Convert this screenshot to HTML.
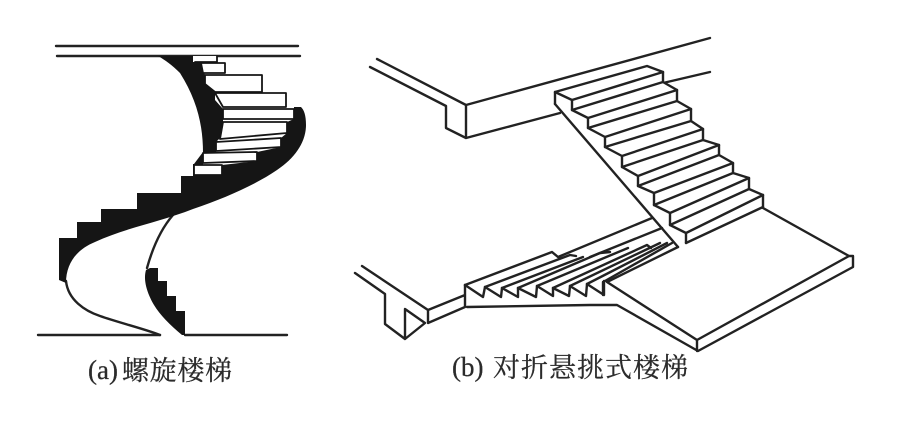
<!DOCTYPE html>
<html><head><meta charset="utf-8"><style>
html,body{margin:0;padding:0;background:#fff}
svg{display:block}
text{font-family:"Liberation Serif","Noto Serif CJK SC",serif;fill:#2b2b2b;stroke:#2b2b2b;stroke-width:.25}
</style></head><body>
<svg width="921" height="440" viewBox="0 0 921 440" xmlns="http://www.w3.org/2000/svg">
<rect width="921" height="440" fill="#fff"/>
<g fill="none" stroke="#222" stroke-width="2.4" stroke-linejoin="round" stroke-linecap="round">
<!-- (a) spiral -->
<path d="M56 46H298M57 56H300M38 335H160M185 335H287"/>
<path d="M66 281C68 300 85 311 100 316C120 323 145 329 160 335" stroke-width="2.4"/>
<path d="M173 215C160 230 152 250 147 268" stroke-width="2.4"/>
<path fill="#151515" stroke="none" d="M158 56H193L201 63L205 75V84L215 93V100L223 109V135L216 142V152L203 153C203 125 197 100 180 73C172 65 165 60 158 56Z"/>
<path fill="#151515" stroke="none" d="M203 152L194 164H193V176H181V193H137V209H101V222H77V238H59V280L66 283C66 262 78 249 95 242C125 228 160 222 193 209C225 198 255 185 277 170C295 158 306 142 306 125C306 115 304 110 301 107H294V119L287 122V133L281 138V147L257 152V161L222 165V175H203Z"/>
<path fill="#151515" stroke="none" d="M150 268H158V281H167V296H176V311H185V335H182C170 325 160 315 154 305C147 293 143 280 146 270Z"/>
<g fill="#fff" stroke="#151515" stroke-width="1.8">
<path d="M193 56H217V62H193Z" stroke="none"/>
<path d="M217 56V62H195"/>
<path d="M201 63H225V73H203Z"/>
<path d="M205 75H262V92H215L205 84Z"/>
<path d="M215 93H286V107H223Z"/>
<path d="M223 109H294V119H223Z"/>
<path d="M223 122H287V133L220 139Z"/>
<path d="M216 142L281 138V147L216 151Z"/>
<path d="M203 153L257 152V161L203 163Z"/>
<path d="M194 165H222V175H194Z"/>
</g>
<!-- (b) upper slab -->
<path d="M377 59L466 105M370 67L446 106V128L466 138V105L710 38M466 138L560 113M663 83L710 72"/>
<!-- upper flight -->
<g fill="#fff">
<path d="M555 92L647 66L663 72V82L677 90V101L691 109V121L703 129V140L719 145V155L733 163V173L749 178V189L763 195V207L686 243L678 247L555 104Z" stroke="none"/>
</g>
<path d="M555 104V92L647 66L663 72V82L677 90V101L691 109V121L703 129V140L719 145V155L733 163V173L749 178V189L763 195V207"/>
<path d="M555 92L572 100V110L588 118V128L605 137V147L622 156V167L638 176V186L654 193V205L670 213V225L686 233V243"/>
<path d="M572 100L663 72M572 110L663 82M588 118L677 90M588 128L677 101M605 137L691 109M605 147L691 121M622 156L703 129M622 167L703 140M638 176L719 145M638 186L719 155M654 193L733 163M654 205L733 173M670 213L749 178M670 225L749 189M686 233L763 195M686 243L763 207"/>
<path d="M555 104L678 247"/>
<!-- landing -->
<path d="M763 208L849 256L853 256V267L698 351L617 305H590L467 307M849 256L697 340V351M697 340L607 282L678 247M603 282V295"/>
<!-- lower slab -->
<path d="M362 266L428 310V323L465 307V285M355 273L385 294V324L405 339L425 323L405 309V339M428 310L465 295"/>
<!-- lower flight -->
<path d="M465 285L552 252L558 257L652 218M485 287L570 255L576 256M502 288L583 257M518 288L600 253L610 252M537 286L628 248M553 288L647 245L651 248M570 286L660 243M587 284L667 243M605 281L672 243"/>
<path d="M590 257L662 228" />
<path d="M465 285L483 297L485 287M485 287L501 297L502 288M502 288L518 297V288M518 288L536 297L537 286M537 286L553 296V288M553 288L569 296L570 286M570 286L586 296L587 284M587 284L604 295V281"/>
</g>
<text x="88" y="379" font-size="27">(a)</text>
<text x="122" y="380" font-size="27" textLength="110" lengthAdjust="spacing">螺旋楼梯</text>
<text x="452" y="376" font-size="27">(b)</text>
<text x="493" y="377" font-size="27" textLength="195" lengthAdjust="spacing">对折悬挑式楼梯</text>
</svg>
</body></html>
